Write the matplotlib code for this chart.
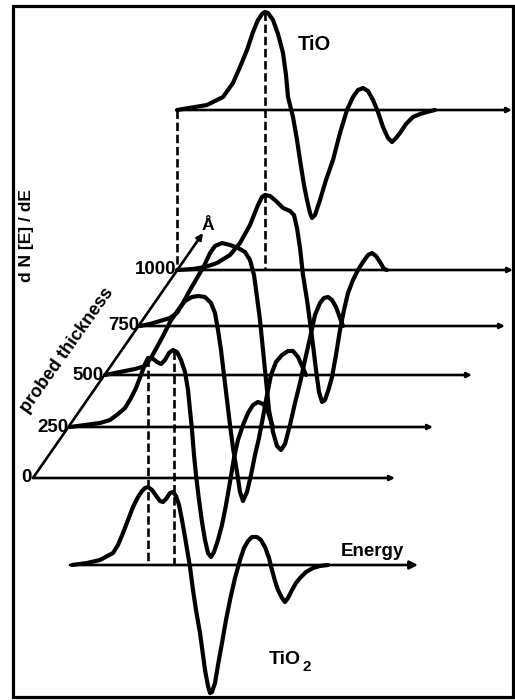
import numpy as np
import matplotlib
matplotlib.use("Agg")
import matplotlib.pyplot as plt
from matplotlib.patches import Rectangle

plt.rcParams['font.family'] = ['Liberation Sans', 'DejaVu Sans']
plt.rcParams['font.weight'] = 'bold'

# probed thickness (Angstrom) and where each energy axis starts on the oblique axis
thickness = [0, 250, 500, 750, 1000]
origin_x = [33, 70, 105, 140, 177]
origin_y = [478, 427, 375, 326, 270]
axis_len = [362, 363, 367, 365, 336]

# reference spectra: origin of their energy axis and axis length
tio_origin = (177, 110)
tio_axis_len = 335
tio2_origin = (70, 565)
tio2_axis_len = 348

# spectra: energy along the axis, dN/dE (positive = up)
tio_energy = [0, 18, 30, 38, 46, 56, 63, 70, 76, 81, 85, 88, 91, 96, 101, 106, 109, 111, 116, 120,
              123, 127, 130, 133, 135, 138, 143, 149, 156, 163, 170, 176, 181, 186, 191, 196, 201,
              206, 211, 215, 219, 223, 229, 236, 243, 250, 258]
tio_dnde = [0, 3, 5, 9, 13, 27, 43, 60, 78, 90, 96, 98, 97, 90, 76, 57, 35, 13, -7, -30,
            -50, -75, -90, -103, -108, -105, -90, -70, -50, -23, 0, 13, 20, 22, 19, 10, -2,
            -17, -28, -32, -28, -23, -14, -7, -4, -2, 0]

e1000 = [0, 16, 28, 40, 53, 63, 73, 81, 85, 88, 93, 99, 106, 113, 117, 120, 123, 126, 130, 133,
         136, 139, 142, 145, 148, 152, 155, 159, 163, 167, 171, 176, 181, 186, 191, 195, 199, 203,
         207, 210]
d1000 = [0, 1, 3, 7, 15, 27, 45, 65, 73, 75, 74, 69, 62, 59, 55, 42, 22, -5, -30, -52,
         -75, -100, -122, -132, -130, -118, -107, -85, -60, -40, -23, -10, 0, 8, 15, 17, 14, 8,
         1, 0]

e750 = [0, 10, 20, 30, 37, 43, 50, 57, 64, 70, 75, 82, 90, 98, 105, 110, 114, 117, 120, 123,
        126, 129, 133, 137, 141, 145, 150, 155, 160, 165, 170, 175, 180, 184, 188, 192, 196, 200,
        203]
d750 = [0, 2, 5, 8, 13, 23, 36, 48, 60, 73, 80, 83, 81, 78, 74, 66, 51, 29, 6, -24,
        -54, -84, -106, -120, -124, -118, -99, -77, -57, -34, -12, 11, 23, 28, 29, 26, 19, 8, 0]

e500 = [0, 10, 20, 30, 40, 46, 52, 58, 65, 73, 80, 87, 93, 100, 106, 110, 113, 116, 119, 122,
        125, 128, 132, 135, 138, 142, 146, 150, 154, 158, 162, 166, 171, 177, 183, 188, 193, 197,
        201]
d500 = [0, 2, 4, 6, 9, 17, 28, 39, 53, 65, 74, 78, 79, 78, 72, 62, 45, 25, 0, -25,
        -50, -73, -97, -117, -126, -117, -100, -80, -63, -42, -20, 0, 13, 20, 24, 24, 18, 9, 0]

e250 = [0, 15, 30, 40, 48, 55, 61, 66, 71, 75, 78, 82, 87, 91, 95, 99, 103, 107, 111, 115,
        118, 120, 122, 124, 126, 129, 132, 135, 138, 141, 144, 148, 152, 156, 160, 164, 168, 173,
        178, 183, 188, 193, 197, 200, 203]
d250 = [0, 2, 4, 7, 13, 19, 29, 39, 52, 63, 69, 69, 65, 63, 67, 74, 77, 75, 67, 55,
        37, 17, -3, -28, -48, -73, -95, -113, -126, -130, -125, -113, -98, -78, -55, -31, -13, 2,
        14, 22, 25, 23, 18, 9, 0]

tio2_energy = [2, 17, 30, 43, 48, 53, 58, 63, 68, 72, 75, 78, 82, 87, 90, 93, 96, 100, 103, 106,
               109, 112, 115, 118, 120, 123, 126, 130, 133, 135, 138, 140, 142, 145, 148, 152, 156,
               160, 165, 170, 174, 178, 182, 187, 191, 195, 199, 202, 205, 208, 212, 215, 218, 222,
               226, 230, 236, 243, 250, 258]
tio2_dnde = [0, 2, 5, 12, 20, 32, 45, 58, 68, 74, 77, 78, 75, 68, 64, 63, 66, 72, 73, 69,
             60, 45, 28, 10, -2, -25, -45, -68, -90, -105, -121, -128, -127, -118, -100, -78, -55,
             -35, -13, 5, 17, 24, 28, 28, 25, 18, 7, -5, -16, -25, -33, -37, -33, -25, -18, -13,
             -7, -3, -1, 0]

spectra = {250: (e250, d250), 500: (e500, d500), 750: (e750, d750), 1000: (e1000, d1000)}

# peak energies tied together by dashed lines
tio_peak_e = 88
tio2_peak_e = [78, 104]

CURVE_LW = 3.0
AXIS_LW = 1.9


def arrow(ax, x0, y0, x1, y1, scale=9):
    ax.annotate('', xy=(x1, y1), xytext=(x0, y0),
                arrowprops=dict(arrowstyle='-|>', lw=AXIS_LW, color='k',
                                mutation_scale=scale, shrinkA=0, shrinkB=0))


fig = plt.figure(figsize=(5.15, 7), dpi=100)
ax = fig.add_axes([0, 0, 1, 1])
ax.set_xlim(0, 515)
ax.set_ylim(700, 0)
ax.axis('off')

# frame
ax.add_patch(Rectangle((13, 6), 500, 691, fill=False, lw=2.3, ec='k'))

# oblique thickness axis
arrow(ax, origin_x[0], origin_y[0], 203, 233, scale=9)
ax.text(208, 225, 'Å', fontsize=12.5, ha='center', va='center')
ax.text(67, 350, 'probed thickness', fontsize=13, rotation=54.7,
        ha='center', va='center', rotation_mode='anchor')

# energy axes for each thickness + tick labels
for t, x0, y0, L in zip(thickness, origin_x, origin_y, axis_len):
    arrow(ax, x0, y0, x0 + L, y0, scale=7)
    ax.text(x0 - 1, y0, str(t), fontsize=13.5, ha='right', va='center')

# spectra at each thickness
for t, x0, y0 in zip(thickness, origin_x, origin_y):
    if t in spectra:
        e, d = spectra[t]
        ax.plot(x0 + np.array(e), y0 - np.array(d), color='k', lw=CURVE_LW,
                solid_joinstyle='round', solid_capstyle='round')

# TiO reference
tx, ty = tio_origin
arrow(ax, tx, ty, tx + tio_axis_len, ty, scale=7)
ax.plot(tx + np.array(tio_energy), ty - np.array(tio_dnde), color='k', lw=CURVE_LW,
        solid_joinstyle='round', solid_capstyle='round')
ax.text(314, 45, 'TiO', fontsize=14.5, ha='center', va='center')

# TiO2 reference
sx, sy = tio2_origin
arrow(ax, sx, sy, sx + tio2_axis_len, sy, scale=12)
ax.plot(sx + np.array(tio2_energy), sy - np.array(tio2_dnde), color='k', lw=CURVE_LW,
        solid_joinstyle='round', solid_capstyle='round')
ax.text(285, 660, 'TiO', fontsize=14, ha='center', va='center')
ax.text(307, 667, '2', fontsize=11, ha='center', va='center')
ax.text(372, 551, 'Energy', fontsize=13.5, ha='center', va='center')

# y label
ax.text(27, 236, 'd N [E] / dE', fontsize=12.5, rotation=90, ha='center', va='center')

# dashed guide lines
dash = dict(color='k', lw=AXIS_LW, linestyle=(0, (3.2, 1.4)))
i1000 = thickness.index(1000)
i250 = thickness.index(250)
ax.plot([tx, tx], [ty, origin_y[i1000]], **dash)
ax.plot([tx + tio_peak_e] * 2, [ty - max(tio_dnde), origin_y[i1000]], **dash)
for pe in tio2_peak_e:
    xx = origin_x[i250] + pe
    top = origin_y[i250] - np.interp(pe, e250, d250)
    ax.plot([xx, xx], [top, sy], **dash)

fig.savefig('out.png', dpi=100)
